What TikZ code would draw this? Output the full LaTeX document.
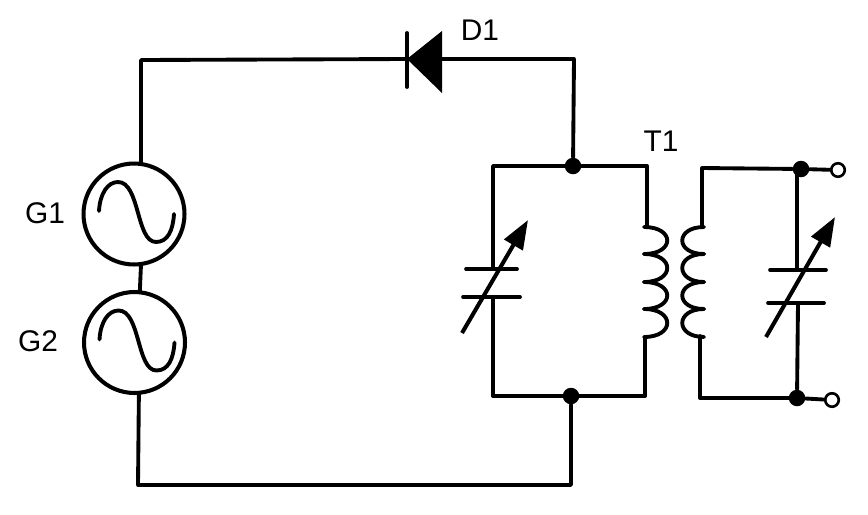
\documentclass[tikz,border=0pt]{standalone}
\usepackage{fontspec}
\setmainfont{Liberation Sans}
\usetikzlibrary{arrows.meta,calc}

\begin{document}
\begin{tikzpicture}[
    x=0.02cm, y=-0.02cm,
    wire/.style={line width=2.2pt, line join=round, line cap=round},
    plate/.style={line width=2.1pt, line cap=round},
    wave/.style={line width=2.2pt, line cap=round},
    gen/.style={circle, draw, line width=2.3pt, inner sep=0pt, outer sep=0pt, minimum size=2.02cm},
    junction/.style={circle, fill=black, inner sep=0pt, minimum size=0.33cm},
    terminal/.style={circle, draw, fill=white, line width=1.5pt, inner sep=0pt, minimum size=0.27cm},
    lbl/.style={font=\fontsize{17}{18}\selectfont, inner sep=0pt},
    tuner/.style={line width=2.3pt, -{Triangle[length=0.58cm,width=0.42cm]}}
]
\useasboundingbox (0,0) rectangle (868,514);

% Generators
\node[gen] (G1) at (134,214) {};
\node[gen] (G2) at (134.5,342.5) {};
\node[lbl] (G1label) at (45,213) {G1};
\node[lbl] (G2label) at (38,341) {G2};
\foreach \gen in {G1,G2} {
    \draw[wave] ([shift={(-35,-3)}]\gen.center)
        .. controls +(1,-18) and +(-10,0) .. ++(19,-29)
        .. controls +(22,0) and +(-20,0) .. ++(38,60)
        .. controls +(12,0) and +(-1,16) .. ++(18,-28);
}

% Diode
\coordinate (Dk) at (407,59);
\coordinate (Dkt) at (407,33);
\coordinate (Dkb) at (407,87);
\coordinate (Dat) at (442,31);
\coordinate (Dab) at (442,93);
\coordinate (Da) at (442,59);
\fill (Dk) -- (Dat) -- (Dab) -- cycle;
\draw[wire] (Dkt) -- (Dkb);
\node[lbl] (D1label) at (480,30) {D1};

% Corners
\coordinate (TL) at (141,60);
\coordinate (TR) at (574,59);
\coordinate (BL) at (138,485);
\coordinate (BR) at (571,485);

% Tank circuit
\node[junction] (Jt) at (573,166) {};
\node[junction] (Jb) at (571,396) {};
\coordinate (Lt) at (493,166);
\coordinate (Lb) at (493,396);
\coordinate (C1t) at (493,269);
\coordinate (C1b) at (493,297);
\coordinate (P1t) at (647,166);
\coordinate (P1a) at (647,227);
\coordinate (P1c) at (645,337);
\coordinate (P1b) at (645,396);
\draw[plate] (466,269) -- (517,269);
\draw[plate] (463,297) -- (520,297);
\draw[tuner] (462,333) -- (528,220);

% Transformer
\foreach \ya/\yb in {227/254, 254/282, 282/309, 309/337} {
    \draw[wave] (644,\ya) .. controls +(31,0) and +(31,0) .. (644,\yb);
    \draw[wave] (704,\ya) .. controls +(-29,0) and +(-29,0) .. (704,\yb);
}
\node[lbl] (T1label) at (661,141) {T1};
\coordinate (S1t) at (702,168);
\coordinate (S1a) at (702,227);
\coordinate (S1c) at (700,336);
\coordinate (S1b) at (700,398);

% Output side
\node[junction] (Jst) at (801,169) {};
\node[junction] (Jsb) at (797,398) {};
\node[terminal] (Ot) at (838,170) {};
\node[terminal] (Ob) at (832,400) {};
\coordinate (C2u) at (797,169);
\coordinate (C2t) at (797,270);
\coordinate (C2b) at (798,303);
\draw[plate] (770,270) -- (826,270);
\draw[plate] (768,303) -- (824,303);
\draw[tuner] (766,337) -- (835,217);

% Wires
\draw[wire] (G1.82) -- (TL) -- (Dk);
\draw[wire] (Da) -- (TR) -- (Jt);
\draw[wire] (G1.-82) -- (G2.84);
\draw[wire] (G2.-85) -- (BL) -- (BR) -- (Jb);
\draw[wire] (P1a) -- (P1t) -- (Lt) -- (C1t);
\draw[wire] (C1b) -- (Lb) -- (P1b) -- (P1c);
\draw[wire] (S1a) -- (S1t) -- (Jst);
\draw[wire] (S1c) -- (S1b) -- (Jsb);
\foreach \source/\dest in {Jst/Ot, Jsb/Ob, C2u/C2t, C2b/Jsb} {
    \draw[wire] (\source) -- (\dest);
}

\end{tikzpicture}
\end{document}
